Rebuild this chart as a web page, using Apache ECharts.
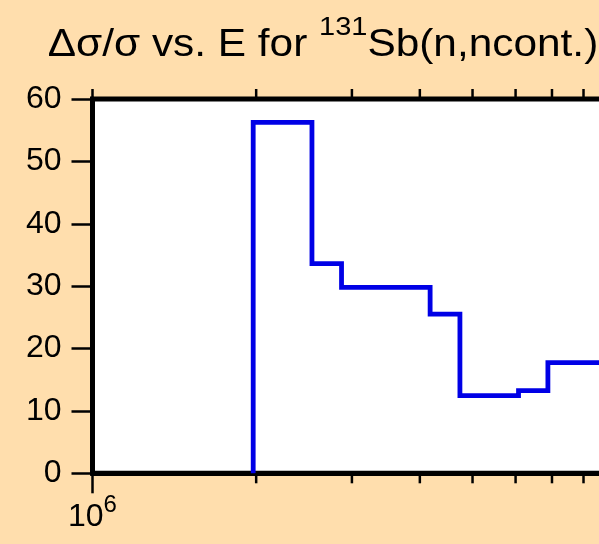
<!DOCTYPE html>
<html><head><meta charset="utf-8">
<script src="https://cdn.jsdelivr.net/npm/echarts@6/dist/echarts.min.js"></script>
<style>html,body{margin:0;padding:0;background:#FFDEAD;} #c{width:599px;height:544px;}</style>
</head><body><div id="c"></div>
<script>
// ---- data ----
const binEdges = [1.975e6, 2.533e6, 2.871e6, 4.178e6, 4.740e6, 6.075e6, 6.880e6, 1.0e7];
const binValues = [56.25, 33.6, 29.8, 25.5, 12.45, 13.25, 17.75];
const yTickValues = [0, 10, 20, 30, 40, 50, 60];
const xMajorTicks = [1e6, 1e7];
const xMinorTicks = [2e6, 3e6, 4e6, 5e6, 6e6, 7e6, 8e6, 9e6];
const titleMain = 'Δσ/σ vs. E for ';
const titleSup = '131';
const titleTail = 'Sb(n,ncont.)';

// ---- build ----
const stepPoints = [[binEdges[0], 0]];
for (let i = 0; i < binValues.length; i++) {
  stepPoints.push([binEdges[i], binValues[i]]);
  stepPoints.push([binEdges[i + 1], binValues[i]]);
}
const tickData = xMajorTicks.map(v => [v, 1]).concat(xMinorTicks.map(v => [v, 0]));
const FF = 'Liberation Sans, Arial, Helvetica, sans-serif';

const chart = echarts.init(document.getElementById('c'), null, {renderer: 'canvas'});
chart.setOption({
  backgroundColor: '#FFDEAD',
  animation: false,
  grid: {
    left: 92.5, top: 99, width: 543.7, bottom: 70.7,
    show: true, backgroundColor: '#ffffff', borderColor: '#000', borderWidth: 5,
    containLabel: false, outerBoundsMode: 'none'
  },
  graphic: [{
    type: 'text', x: 323, y: 46, scaleX: 1.115,
    style: {
      text: '{m|' + titleMain + '}{s|' + titleSup + '}{m|' + titleTail + '}',
      align: 'center', verticalAlign: 'middle', fontFamily: FF, fill: '#000',
      rich: {
        m: {fontSize: 38, lineHeight: 62, fontFamily: FF, fill: '#000'},
        s: {fontSize: 26, lineHeight: 22, verticalAlign: 'top', fontFamily: FF, fill: '#000'}
      }
    }
  }],
  xAxis: {
    type: 'log', logBase: 10, min: 1e6, max: 1e7,
    axisLine: {show: true, lineStyle: {color: '#000', width: 5}},
    axisTick: {show: false},
    splitLine: {show: false},
    minorTick: {show: false},
    axisLabel: {
      show: true, margin: 20, color: '#000',
      formatter: function (v) { return '{b|10}{s|' + Math.round(Math.log10(v)) + '}'; },
      rich: {
        b: {fontSize: 32, lineHeight: 48, fontFamily: FF, color: '#000'},
        s: {fontSize: 24, lineHeight: 20, verticalAlign: 'top', fontFamily: FF, color: '#000'}
      }
    }
  },
  yAxis: {
    type: 'value', min: 0, max: 60, interval: 10,
    axisLine: {show: true, lineStyle: {color: '#000', width: 5}},
    axisTick: {show: true, length: 21, lineStyle: {color: '#000', width: 2.5}},
    splitLine: {show: false},
    axisLabel: {show: true, margin: 31, fontSize: 32, fontFamily: FF, color: '#000'}
  },
  series: [
    {
      type: 'line', data: stepPoints, showSymbol: false, symbol: 'none',
      lineStyle: {color: '#0000e6', width: 4.8, join: 'miter'}, clip: true, z: 3
    },
    {
      type: 'custom', data: tickData, clip: false, silent: true, z: 4,
      renderItem: function (params, api) {
        const x = api.coord([api.value(0), 0])[0];
        const cs = params.coordSys;
        const bottom = cs.y + cs.height;
        const top = cs.y;
        const major = api.value(1) === 1;
        const st = {stroke: '#000', lineWidth: 2.5};
        return {type: 'group', children: [
          {type: 'line', shape: {x1: x, y1: bottom, x2: x, y2: bottom + (major ? 20 : 10)}, style: st},
          {type: 'line', shape: {x1: x, y1: top, x2: x, y2: top - 10}, style: st}
        ]};
      }
    }
  ]
});
</script></body></html>
